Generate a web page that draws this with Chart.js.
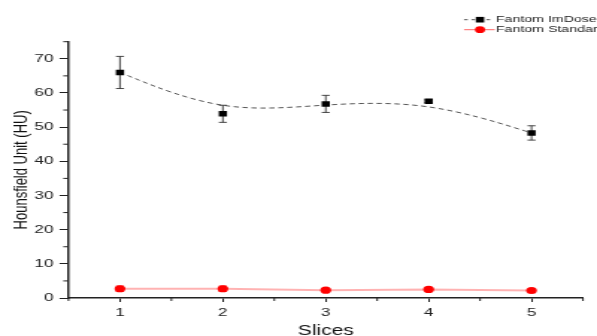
<!DOCTYPE html>
<html>
<head>
<meta charset="utf-8">
<script src="https://cdn.jsdelivr.net/npm/chart.js@4.4.1/dist/chart.umd.min.js"></script>
<style>
  html, body { margin: 0; padding: 0; background: #fff; overflow: hidden; }
  #wrap { width: 597px; height: 336px; overflow: hidden; }
  /* the reference image is stretched sideways, so the canvas is too */
  #chart { transform: scaleX(1.4925); transform-origin: 0 0; display: block; }
</style>
</head>
<body>
<div id="wrap"><canvas id="chart" width="400" height="336"></canvas></div>
<script>
const slices = [1, 2, 3, 4, 5];
const imdoseHU = [66.0, 53.9, 56.8, 57.6, 48.3];
const imdoseErr = [4.7, 2.5, 2.5, 0.4, 2.1];
const standardHU = [2.7, 2.7, 2.3, 2.5, 2.2];
const standardErr = [0.8, 0.8, 0.3, 0.6, 0.3];
const xTicks = [1, 2, 3, 4, 5];
const yTicks = [0, 10, 20, 30, 40, 50, 60, 70];
const xMinor = [0.5, 1.5, 2.5, 3.5, 4.5, 5.5];
const yMinor = [5, 15, 25, 35, 45, 55, 65, 75];
const seriesLabels = ['Fantom ImDose', 'Fantom Standard'];

const FONT = "'Liberation Sans', Arial, sans-serif";
const AXIS = '#222';

// B-spline connection for the ImDose points (like Origin's "B-Spline" line)
const splinePlugin = {
    id: 'bspline',
    beforeDatasetsDraw(chart) {
        const {ctx, scales: {x, y}} = chart;
        const pts = slices.map((s, i) => [x.getPixelForValue(s), y.getPixelForValue(imdoseHU[i])]);
        const last = pts[pts.length - 1];
        const q = [pts[0], pts[0], ...pts, last, last];
        ctx.save();
        ctx.beginPath();
        ctx.strokeStyle = '#555';
        ctx.lineWidth = 1;
        ctx.setLineDash([3.5, 2.5]);
        for (let i = 0; i + 3 < q.length; i++) {
            const a = q[i], b = q[i + 1], c = q[i + 2], d = q[i + 3];
            const p0 = [(a[0] + 4 * b[0] + c[0]) / 6, (a[1] + 4 * b[1] + c[1]) / 6];
            const p1 = [(2 * b[0] + c[0]) / 3, (2 * b[1] + c[1]) / 3];
            const p2 = [(b[0] + 2 * c[0]) / 3, (b[1] + 2 * c[1]) / 3];
            const p3 = [(b[0] + 4 * c[0] + d[0]) / 6, (b[1] + 4 * c[1] + d[1]) / 6];
            if (i === 0) ctx.moveTo(p0[0], p0[1]);
            ctx.bezierCurveTo(p1[0], p1[1], p2[0], p2[1], p3[0], p3[1]);
        }
        ctx.stroke();
        ctx.restore();
    }
};

// error bars
const errorBarPlugin = {
    id: 'errorBars',
    beforeDatasetsDraw(chart) {
        const {ctx, scales: {x, y}} = chart;
        const draw = (vals, errs, color) => {
            ctx.save();
            ctx.strokeStyle = color;
            ctx.lineWidth = 0.9;
            vals.forEach((v, i) => {
                const px = x.getPixelForValue(slices[i]);
                const top = y.getPixelForValue(v + errs[i]);
                const bot = y.getPixelForValue(v - errs[i]);
                ctx.beginPath();
                ctx.moveTo(px, top); ctx.lineTo(px, bot);
                ctx.moveTo(px - 2.7, top); ctx.lineTo(px + 2.7, top);
                ctx.moveTo(px - 2.7, bot); ctx.lineTo(px + 2.7, bot);
                ctx.stroke();
            });
            ctx.restore();
        };
        draw(imdoseHU, imdoseErr, '#333');
        draw(standardHU, standardErr, '#ff0000');
    }
};

// minor ticks and the legend
const extrasPlugin = {
    id: 'extras',
    afterDraw(chart) {
        const {ctx, scales: {x, y}} = chart;
        ctx.save();
        ctx.strokeStyle = AXIS;
        ctx.lineWidth = 1;
        yMinor.forEach(v => {
            const py = y.getPixelForValue(v);
            ctx.beginPath(); ctx.moveTo(x.left, py); ctx.lineTo(x.left - 3.5, py); ctx.stroke();
        });
        xMinor.forEach(v => {
            const px = x.getPixelForValue(v);
            ctx.beginPath(); ctx.moveTo(px, y.bottom); ctx.lineTo(px, y.bottom + 3); ctx.stroke();
        });

        // legend
        const x0 = 310.9, x1 = 329.5, mx = 321.6, tx = 332.3;
        const rows = [19.7, 29.7];
        ctx.font = '9.5px ' + FONT;
        ctx.textBaseline = 'middle';
        ctx.fillStyle = AXIS;

        ctx.strokeStyle = '#555';
        ctx.setLineDash([2.5, 2.5]);
        ctx.beginPath(); ctx.moveTo(x0, rows[0]); ctx.lineTo(x1, rows[0]); ctx.stroke();
        ctx.setLineDash([]);
        ctx.fillStyle = '#000';
        ctx.fillRect(mx - 2.8, rows[0] - 2.8, 5.6, 5.6);
        ctx.fillStyle = AXIS;
        ctx.fillText(seriesLabels[0], tx, rows[0]);

        ctx.strokeStyle = 'rgba(255,0,0,0.6)';
        ctx.lineWidth = 1;
        ctx.beginPath(); ctx.moveTo(x0, rows[1]); ctx.lineTo(x1 + 2, rows[1]); ctx.stroke();
        ctx.fillStyle = '#ff0000';
        ctx.beginPath(); ctx.arc(mx, rows[1], 3.4, 0, Math.PI * 2); ctx.fill();
        ctx.fillStyle = AXIS;
        ctx.fillText(seriesLabels[1], tx, rows[1]);
        ctx.restore();
    }
};

new Chart(document.getElementById('chart').getContext('2d'), {
    type: 'line',
    data: {
        datasets: [
            {
                label: seriesLabels[0],
                data: slices.map((s, i) => ({x: s, y: imdoseHU[i]})),
                showLine: false,
                pointStyle: 'rect',
                pointRadius: 3.9,
                pointBackgroundColor: '#000',
                pointBorderWidth: 0
            },
            {
                label: seriesLabels[1],
                data: slices.map((s, i) => ({x: s, y: standardHU[i]})),
                borderColor: 'rgba(255,0,0,0.3)',
                borderWidth: 2,
                tension: 0,
                pointStyle: 'circle',
                pointRadius: 3.6,
                pointBackgroundColor: '#ff0000',
                pointBorderWidth: 0
            }
        ]
    },
    options: {
        responsive: false,
        animation: false,
        devicePixelRatio: 1,
        layout: { padding: { left: 0, right: 9.4, top: 41.7, bottom: 0 } },
        plugins: {
            legend: { display: false },
            tooltip: { enabled: false }
        },
        scales: {
            x: {
                type: 'linear',
                min: 0.5,
                max: 5.5,
                afterBuildTicks: axis => { axis.ticks = xTicks.map(v => ({value: v})); },
                afterFit: axis => { axis.height = 38; },
                grid: { drawOnChartArea: false, drawTicks: true, tickLength: 4, color: AXIS, tickWidth: 1 },
                border: { display: true, color: AXIS, width: 1.5 },
                ticks: { color: AXIS, padding: 4, font: { family: FONT, size: 11.5 } },
                title: {
                    display: true, text: 'Slices', color: '#111',
                    font: { family: FONT, size: 14 },
                    padding: { top: 0, bottom: -4 }
                }
            },
            y: {
                min: 0,
                max: 75,
                afterBuildTicks: axis => { axis.ticks = yTicks.map(v => ({value: v})); },
                afterFit: axis => { axis.width = 45.9; },
                grid: { drawOnChartArea: false, drawTicks: true, tickLength: 6, color: AXIS, tickWidth: 1 },
                border: { display: true, color: AXIS, width: 1.5 },
                ticks: { color: AXIS, padding: 4, font: { family: FONT, size: 11.5 } },
                title: {
                    display: true, text: 'Hounsfield Unit (HU)', color: '#111',
                    font: { family: FONT, size: 13 },
                    padding: { top: 6.7, bottom: 0 }
                }
            }
        }
    },
    plugins: [splinePlugin, errorBarPlugin, extrasPlugin]
});
</script>
</body>
</html>
